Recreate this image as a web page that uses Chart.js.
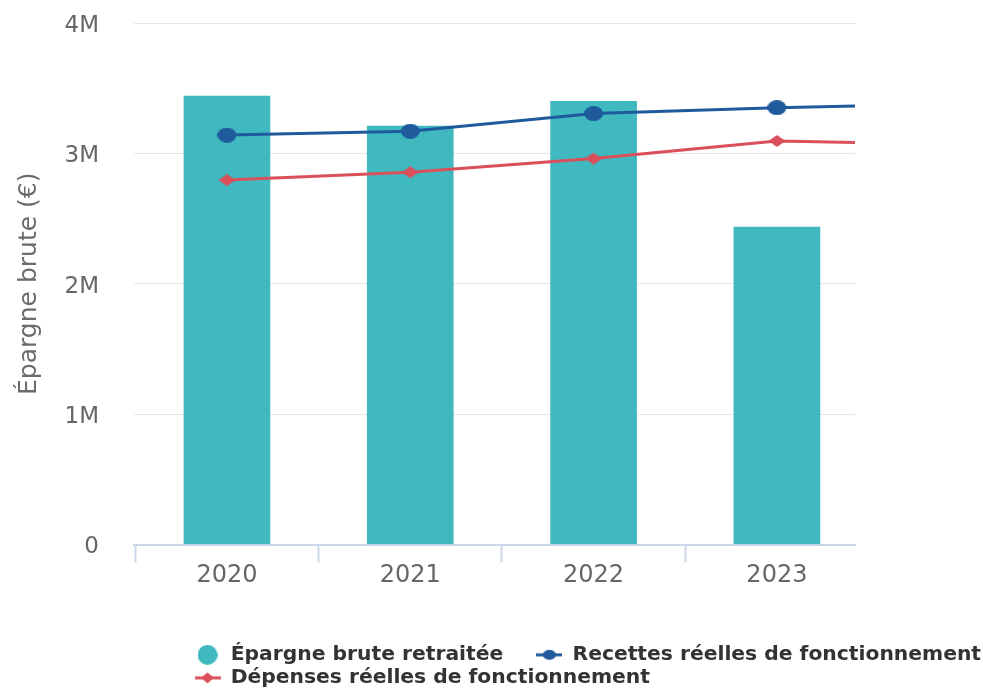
<!DOCTYPE html>
<html>
<head>
<meta charset="utf-8">
<script src="https://cdn.jsdelivr.net/npm/chart.js@4.4.1/dist/chart.umd.min.js"></script>
<style>
  html, body { margin: 0; padding: 0; overflow: hidden; background: #ffffff; }
  #wrap { position: relative; width: 983px; height: 698px; }
</style>
</head>
<body>
<div id="wrap"><canvas id="chart"></canvas></div>
<script>
// ---------- data ----------
const categories = ['2020', '2021', '2022', '2023', '2024'];
const epargneBrute = [3440000, 3210000, 3400000, 2435000, null];
const recettes = [3140000, 3170000, 3305000, 3350000, 3380000];
const depenses = [2795000, 2855000, 2960000, 3095000, 3070000];
const seriesNames = ['Épargne brute retraitée', 'Recettes réelles de fonctionnement', 'Dépenses réelles de fonctionnement'];
const yTickValues = [0, 1000000, 2000000, 3000000, 4000000];
const yTickLabels = ['0', '1M', '2M', '3M', '4M'];
const yAxisTitle = 'Épargne brute (€)';

// ---------- styles ----------
const COL_BAR = '#40b8c0';
const COL_BLUE = '#1e5a9c';
const COL_RED = '#d9505b';
const X_MIN = -0.507, X_MAX = 3.426;

function makeCanvas(w, h, draw) {
  const c = document.createElement('canvas');
  c.width = w; c.height = h;
  draw(c.getContext('2d'), w, h);
  return c;
}
function ellipse(ctx, cx, cy, rx, ry, color) {
  ctx.fillStyle = color; ctx.beginPath();
  ctx.ellipse(cx, cy, rx, ry, 0, 0, Math.PI * 2); ctx.fill();
}
function diamond(ctx, cx, cy, rx, ry, color) {
  ctx.fillStyle = color; ctx.beginPath();
  ctx.moveTo(cx, cy - ry); ctx.lineTo(cx + rx, cy); ctx.lineTo(cx, cy + ry); ctx.lineTo(cx - rx, cy);
  ctx.closePath(); ctx.fill();
}
function hline(ctx, w, y, color) {
  ctx.strokeStyle = color; ctx.lineWidth = 3; ctx.beginPath();
  ctx.moveTo(0, y); ctx.lineTo(w, y); ctx.stroke();
}

const blueMarker = makeCanvas(19, 15, (c, w, h) => ellipse(c, w / 2, h / 2, w / 2, h / 2, COL_BLUE));
const redMarker = makeCanvas(17, 12, (c, w, h) => diamond(c, w / 2, h / 2, w / 2, h / 2, COL_RED));
const legendBar = makeCanvas(20, 20, (c, w, h) => ellipse(c, 10, 10, 10, 10, COL_BAR));
const legendBlue = makeCanvas(26, 12, (c, w, h) => { hline(c, w, 6, COL_BLUE); ellipse(c, 13, 6, 6.5, 5, COL_BLUE); });
const legendRed = makeCanvas(26, 12, (c, w, h) => { hline(c, w, 6, COL_RED); diamond(c, 13, 6, 6.5, 5.5, COL_RED); });
const legendImages = [legendBar, legendBlue, legendRed];

const toPoints = arr => arr.map((v, i) => ({ x: i, y: v }));

const LEGEND_LEFT = 194.5;
const legendPlacement = {
  id: 'legendPlacement',
  afterLayout(chart) {
    const lg = chart.legend;
    if (!lg) return;
    const pad = lg.options.labels.padding;
    lg.left = LEGEND_LEFT - pad;
    lg.right = chart.width + 40;
  }
};

new Chart(document.getElementById('chart'), {
  type: 'bar',
  data: {
    datasets: [
      {
        type: 'bar', label: seriesNames[0], data: toPoints(epargneBrute),
        backgroundColor: COL_BAR, borderWidth: 0, barThickness: 86, order: 3
      },
      {
        type: 'line', label: seriesNames[1], data: toPoints(recettes),
        borderColor: COL_BLUE, backgroundColor: COL_BLUE, borderWidth: 3,
        pointStyle: blueMarker, pointRadius: 8, pointHoverRadius: 8, tension: 0, order: 1
      },
      {
        type: 'line', label: seriesNames[2], data: toPoints(depenses),
        borderColor: COL_RED, backgroundColor: COL_RED, borderWidth: 3,
        pointStyle: redMarker, pointRadius: 8, pointHoverRadius: 8, tension: 0, order: 2
      }
    ]
  },
  options: {
    responsive: true,
    maintainAspectRatio: false,
    animation: false,
    events: [],
    layout: { padding: { top: 23, left: 0, right: 0, bottom: 0 } },
    scales: {
      x: {
        type: 'linear', position: 'bottom', min: X_MIN, max: X_MAX, bounds: 'data', offset: false,
        afterBuildTicks(scale) {
          const t = [];
          categories.forEach((c, i) => {
            if (i - 0.5 >= X_MIN && i - 0.5 <= X_MAX) t.push({ value: i - 0.5 });
            if (i <= X_MAX) t.push({ value: i });
          });
          scale.ticks = t;
        },
        afterFit(scale) { scale.height = 97.5; },
        grid: {
          display: true, offset: false, drawOnChartArea: false, drawTicks: true, tickLength: 18, tickWidth: 2,
          tickColor: ctx => (ctx.tick && Number.isInteger(ctx.tick.value)) ? 'rgba(0,0,0,0)' : '#ccd6eb'
        },
        border: { display: true, color: '#ccd6eb', width: 2 },
        ticks: {
          autoSkip: false, maxRotation: 0, padding: -1, color: '#666666',
          font: { family: 'DejaVu Sans', size: 24 },
          callback: v => Number.isInteger(v) ? categories[v] : ''
        }
      },
      y: {
        type: 'linear', position: 'left', min: 0, max: 4000000,
        afterBuildTicks(scale) { scale.ticks = yTickValues.map(v => ({ value: v })); },
        afterFit(scale) { scale.width = 134; },
        grid: { color: '#e6e6e6', lineWidth: 1, drawTicks: true, tickLength: 34, tickColor: 'rgba(0,0,0,0)' },
        border: { display: false },
        ticks: {
          padding: 1, labelOffset: 3, color: '#666666',
          font: { family: 'DejaVu Sans', size: 23 },
          callback: v => { const i = yTickValues.indexOf(v); return i >= 0 ? yTickLabels[i] : ''; }
        },
        title: {
          display: true, text: yAxisTitle, color: '#6b6b6b',
          font: { family: 'DejaVu Sans', size: 25 },
          padding: { top: 14, bottom: 0 }
        }
      },
      yRight: {
        type: 'linear', position: 'right', display: true,
        grid: { display: false }, border: { display: false }, ticks: { display: false },
        afterFit(scale) { scale.width = 128; }
      }
    },
    plugins: {
      tooltip: { enabled: false },
      legend: {
        display: true, position: 'bottom', align: 'start',
        labels: {
          usePointStyle: true, pointStyleWidth: 26, padding: 2.7, color: '#333333',
          font: { family: 'DejaVu Sans', size: 20.3, weight: 'bold' },
          generateLabels(chart) {
            return chart.data.datasets.map((ds, i) => ({
              text: i === 0 ? ds.label + '\u2003\u2002' : ds.label,
              fillStyle: ds.backgroundColor, strokeStyle: ds.borderColor || ds.backgroundColor,
              lineWidth: 0, hidden: false, datasetIndex: i, pointStyle: legendImages[i],
              rotation: 0, fontColor: '#333333'
            }));
          }
        }
      }
    }
  },
  plugins: [legendPlacement]
});
</script>
</body>
</html>
